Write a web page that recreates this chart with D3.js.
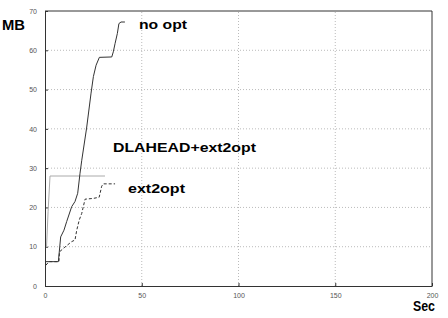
<!DOCTYPE html>
<html>
<head>
<meta charset="utf-8">
<script src="https://cdn.jsdelivr.net/npm/d3@7"></script>
<style>
  body { margin: 0; background: #fff; }
  svg { display: block; }
  .tick-label { font-family: 'Liberation Sans', Arial, sans-serif; font-size: 7px; fill: #555; }
  .big { font-family: 'Liberation Sans', Arial, sans-serif; font-weight: bold; fill: #000; }
</style>
</head>
<body>
<div id="chart"></div>
<script>
// time (sec) and memory (MB) for each run
const noOptT  = [0, 6.9, 8.1, 9.8, 11.2, 13.8, 15.5, 16.9, 18.1, 19, 21.5, 23.8, 25, 26.4, 28.1, 34.5, 35.3, 36.2, 37.4, 38.2, 39.3, 41.3];
const noOptMB = [6.2, 6.2, 12.5, 14.2, 16.4, 20.2, 21.5, 23.6, 28.7, 32, 40.2, 49.1, 53.3, 56.2, 58.2, 58.3, 59.6, 61.7, 64.3, 66.8, 67.2, 67.2];

const dlaT  = [0.8, 1.6, 2.6, 31];
const dlaMB = [10, 19, 28, 28];

const ext2T  = [0.5, 2, 7.2, 7.5, 10.3, 13.8, 15.5, 16.4, 17.7, 19, 20.7, 25, 28, 29.3, 30.1, 36.2];
const ext2MB = [5.3, 6.2, 6.2, 8.7, 9.9, 11.3, 11.7, 14.2, 16.8, 18.5, 22.1, 22.3, 22.6, 25.4, 26, 26];

const xTicks = [0, 50, 100, 150, 200];
const yTicks = [0, 10, 20, 30, 40, 50, 60, 70];

const width = 448, height = 318;
const margin = { left: 45, right: 16, top: 11, bottom: 32 };

const svg = d3.select('#chart').append('svg')
    .attr('width', width)
    .attr('height', height);

const x = d3.scaleLinear().domain([0, 200]).range([margin.left, width - margin.right]);
const y = d3.scaleLinear().domain([0, 70]).range([height - margin.bottom, margin.top]);

// grid
svg.append('g')
    .selectAll('line')
    .data(xTicks.slice(1, -1))
    .enter().append('line')
    .attr('x1', d => x(d)).attr('x2', d => x(d))
    .attr('y1', y(0)).attr('y2', y(70))
    .attr('stroke', '#bbb')
    .attr('stroke-dasharray', '1,2');

svg.append('g')
    .selectAll('line')
    .data(yTicks.slice(1, -1))
    .enter().append('line')
    .attr('x1', x(0)).attr('x2', x(200))
    .attr('y1', d => y(d)).attr('y2', d => y(d))
    .attr('stroke', '#bbb')
    .attr('stroke-dasharray', '1,2');

// axes (inward ticks)
const xAxis = svg.append('g')
    .attr('transform', `translate(0,${y(0)})`)
    .call(d3.axisBottom(x).tickValues(xTicks).tickSizeInner(-3).tickSizeOuter(0).tickPadding(7));
const yAxis = svg.append('g')
    .attr('transform', `translate(${x(0)},0)`)
    .call(d3.axisLeft(y).tickValues(yTicks).tickSizeInner(-3).tickSizeOuter(0).tickPadding(8));

[xAxis, yAxis].forEach(a => {
    a.select('.domain').attr('stroke', '#333');
    a.selectAll('.tick line').attr('stroke', '#333');
    a.selectAll('.tick text').attr('class', 'tick-label').attr('font-size', null).attr('font-family', null);
});

// box top and right
svg.append('line')
    .attr('x1', x(0)).attr('x2', x(200)).attr('y1', y(70)).attr('y2', y(70))
    .attr('stroke', '#333');
svg.append('line')
    .attr('x1', x(200)).attr('x2', x(200)).attr('y1', y(70)).attr('y2', y(0))
    .attr('stroke', '#333');

const line = d3.line().x(d => x(d[0])).y(d => y(d[1]));

svg.append('path')
    .datum(dlaT.map((t, i) => [t, dlaMB[i]]))
    .attr('d', line)
    .attr('fill', 'none')
    .attr('stroke', '#aaa')
    .attr('stroke-width', 1);

svg.append('path')
    .datum(ext2T.map((t, i) => [t, ext2MB[i]]))
    .attr('d', line)
    .attr('fill', 'none')
    .attr('stroke', '#333')
    .attr('stroke-width', 1)
    .attr('stroke-dasharray', '3,2');

svg.append('path')
    .datum(noOptT.map((t, i) => [t, noOptMB[i]]))
    .attr('d', line)
    .attr('fill', 'none')
    .attr('stroke', '#333')
    .attr('stroke-width', 1);

// labels
function label(txt, px, py, size, len) {
    svg.append('text')
        .attr('class', 'big')
        .attr('x', px).attr('y', py)
        .attr('font-size', size)
        .attr('textLength', len)
        .attr('lengthAdjust', 'spacingAndGlyphs')
        .text(txt);
}
label('MB', 2, 30, 14, 23);
label('Sec', 413, 311, 14, 22);
label('no opt', 139, 29, 12, 48);
label('DLAHEAD+ext2opt', 113, 152, 12, 143);
label('ext2opt', 128, 193, 12, 57);
</script>
</body>
</html>
